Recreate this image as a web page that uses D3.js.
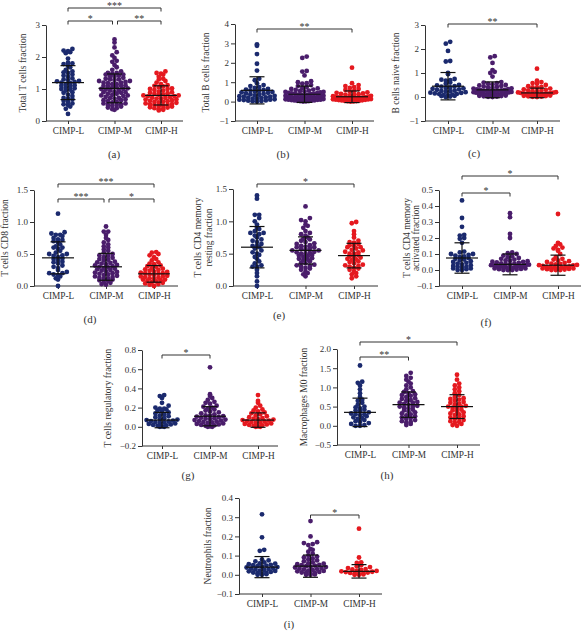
<!DOCTYPE html>
<html><head><meta charset="utf-8">
<script src="https://cdn.jsdelivr.net/npm/d3@7"></script>
<style>
body{margin:0;background:#fff;}
text{font-family:"Liberation Serif","Times New Roman",serif;fill:#333;}
</style></head>
<body><svg id="c" width="583" height="633"></svg>
<script>
// ---------- DATA ----------
const groups = ["CIMP-L","CIMP-M","CIMP-H"];
const colors = ["#1b2a6e","#4a1d6b","#e5191f"];

const aL=[0.22,0.38,0.45,0.5,0.52,0.55,0.6,0.63,0.68,0.7,0.72,0.78,0.82,0.88,0.9,0.95,0.98,1.0,1.02,1.05,1.08,1.1,1.12,1.15,1.18,1.2,1.22,1.24,1.25,1.28,1.3,1.33,1.38,1.42,1.45,1.5,1.52,1.55,1.6,1.68,1.72,1.78,1.8,1.82,1.95,2.12,2.15,2.18,2.2,2.25];
const aM=[0.35,0.37,0.4,0.42,0.45,0.48,0.5,0.5,0.52,0.55,0.55,0.58,0.6,0.62,0.65,0.65,0.68,0.7,0.72,0.72,0.75,0.78,0.8,0.8,0.82,0.85,0.85,0.88,0.9,0.9,0.92,0.95,0.95,0.98,1.0,1.0,1.02,1.05,1.05,1.08,1.1,1.1,1.12,1.15,1.15,1.18,1.2,1.2,1.22,1.25,1.25,1.28,1.3,1.3,1.32,1.35,1.38,1.4,1.42,1.45,1.45,1.48,1.5,1.5,1.55,1.6,1.68,1.75,1.85,1.88,1.97,2.05,2.15,2.3,2.45,2.55];
const aH=[0.33,0.35,0.37,0.38,0.4,0.42,0.43,0.45,0.47,0.48,0.5,0.5,0.52,0.53,0.55,0.57,0.58,0.6,0.6,0.62,0.63,0.65,0.67,0.68,0.7,0.7,0.72,0.73,0.75,0.77,0.78,0.8,0.8,0.82,0.83,0.85,0.87,0.88,0.9,0.92,0.95,0.97,1.0,1.0,1.02,1.05,1.08,1.1,1.12,1.15,1.2,1.25,1.3,1.32,1.38,1.45,1.48,1.5,1.55];

const bL=[0.0,0.02,0.03,0.05,0.06,0.08,0.1,0.1,0.12,0.15,0.15,0.18,0.2,0.22,0.25,0.25,0.28,0.3,0.32,0.35,0.38,0.4,0.42,0.45,0.48,0.5,0.52,0.55,0.58,0.6,0.62,0.65,0.7,0.75,0.8,0.85,0.95,1.1,1.18,1.6,1.95,2.45,2.88,2.95];
const bM=[0.0,0.01,0.02,0.03,0.04,0.05,0.06,0.07,0.08,0.09,0.1,0.1,0.12,0.13,0.14,0.15,0.16,0.18,0.19,0.2,0.2,0.22,0.23,0.25,0.26,0.28,0.3,0.3,0.32,0.33,0.35,0.36,0.38,0.4,0.4,0.42,0.44,0.45,0.48,0.5,0.5,0.52,0.55,0.57,0.6,0.62,0.65,0.68,0.7,0.75,0.8,0.85,0.92,0.95,1.0,1.05,1.35,1.55,1.58,2.25,2.32];
const bH=[0.0,0.01,0.02,0.03,0.04,0.05,0.06,0.07,0.08,0.09,0.1,0.11,0.12,0.13,0.14,0.15,0.16,0.17,0.18,0.19,0.2,0.21,0.22,0.23,0.25,0.26,0.28,0.3,0.32,0.34,0.36,0.38,0.4,0.42,0.45,0.48,0.52,0.55,0.6,0.65,0.7,0.75,0.8,0.85,0.95,1.75];

const cL=[0.0,0.02,0.04,0.05,0.07,0.08,0.1,0.12,0.13,0.15,0.17,0.18,0.2,0.22,0.24,0.25,0.27,0.3,0.32,0.34,0.36,0.38,0.4,0.43,0.45,0.48,0.5,0.55,0.6,0.68,0.7,0.72,0.75,0.95,1.0,1.48,1.5,1.92,2.22,2.3];
const cM=[0.0,0.01,0.02,0.03,0.04,0.05,0.06,0.07,0.08,0.09,0.1,0.1,0.11,0.12,0.13,0.14,0.15,0.16,0.17,0.18,0.19,0.2,0.21,0.22,0.23,0.24,0.25,0.26,0.28,0.29,0.3,0.32,0.33,0.35,0.36,0.38,0.4,0.42,0.44,0.46,0.48,0.5,0.52,0.55,0.58,0.6,0.62,0.85,1.0,1.05,1.12,1.42,1.65,1.7];
const cH=[0.0,0.01,0.02,0.03,0.04,0.05,0.06,0.07,0.08,0.09,0.1,0.1,0.11,0.12,0.13,0.14,0.15,0.16,0.17,0.18,0.19,0.2,0.22,0.24,0.26,0.28,0.3,0.32,0.35,0.38,0.4,0.42,0.45,0.5,0.55,0.58,0.62,0.68,1.18];

const dL=[0.0,0.1,0.12,0.15,0.17,0.18,0.2,0.2,0.22,0.25,0.28,0.3,0.32,0.35,0.37,0.38,0.4,0.42,0.43,0.45,0.47,0.48,0.5,0.5,0.52,0.55,0.58,0.6,0.6,0.62,0.65,0.68,0.7,0.72,0.73,0.75,0.78,0.8,0.8,0.82,0.84,1.13];
const dM=[0.02,0.03,0.05,0.06,0.08,0.09,0.1,0.11,0.12,0.13,0.14,0.15,0.16,0.17,0.18,0.19,0.2,0.21,0.22,0.23,0.24,0.25,0.26,0.27,0.28,0.29,0.3,0.31,0.32,0.33,0.34,0.35,0.36,0.37,0.38,0.4,0.41,0.42,0.44,0.45,0.47,0.48,0.5,0.52,0.55,0.57,0.6,0.62,0.65,0.68,0.72,0.75,0.8,0.85,0.85,0.93];
const dH=[0.0,0.02,0.03,0.04,0.05,0.06,0.07,0.08,0.09,0.1,0.1,0.11,0.12,0.13,0.14,0.15,0.15,0.16,0.17,0.18,0.19,0.2,0.2,0.21,0.22,0.23,0.24,0.25,0.26,0.27,0.28,0.3,0.31,0.32,0.34,0.35,0.37,0.4,0.42,0.45,0.48,0.5,0.52,0.53];

const eL=[0.0,0.07,0.15,0.2,0.25,0.3,0.3,0.32,0.35,0.38,0.42,0.45,0.48,0.5,0.52,0.55,0.58,0.6,0.62,0.62,0.65,0.68,0.7,0.72,0.75,0.78,0.8,0.82,0.82,0.85,0.88,0.9,0.95,1.0,1.05,1.1,1.1,1.35,1.4];
const eM=[0.15,0.18,0.2,0.22,0.25,0.27,0.28,0.3,0.31,0.32,0.33,0.35,0.36,0.38,0.4,0.41,0.42,0.43,0.45,0.46,0.47,0.48,0.5,0.5,0.51,0.52,0.53,0.55,0.55,0.56,0.57,0.58,0.6,0.6,0.61,0.62,0.63,0.65,0.66,0.68,0.7,0.72,0.73,0.75,0.78,0.8,0.82,0.85,0.9,0.93,0.95,1.0,1.02,1.05,1.23];
const eH=[0.12,0.15,0.18,0.2,0.22,0.25,0.27,0.28,0.3,0.31,0.32,0.33,0.35,0.37,0.38,0.4,0.41,0.42,0.44,0.45,0.46,0.48,0.5,0.5,0.52,0.53,0.55,0.56,0.58,0.6,0.6,0.62,0.63,0.65,0.67,0.68,0.7,0.75,0.8,0.85,0.97,0.99];

const fL=[0.0,0.0,0.005,0.01,0.01,0.015,0.02,0.02,0.025,0.03,0.035,0.04,0.045,0.05,0.055,0.06,0.065,0.07,0.075,0.08,0.085,0.09,0.095,0.1,0.1,0.11,0.115,0.17,0.195,0.2,0.215,0.22,0.27,0.325,0.435];
const fM=[0.0,0.0,0.0,0.003,0.005,0.007,0.01,0.01,0.012,0.015,0.015,0.018,0.02,0.02,0.022,0.025,0.025,0.028,0.03,0.03,0.033,0.035,0.038,0.04,0.042,0.045,0.048,0.05,0.052,0.055,0.058,0.06,0.065,0.07,0.075,0.08,0.085,0.09,0.1,0.105,0.11,0.2,0.225,0.33,0.355];
const fH=[0.0,0.0,0.0,0.003,0.005,0.007,0.01,0.01,0.012,0.015,0.015,0.018,0.02,0.02,0.022,0.025,0.028,0.03,0.032,0.035,0.038,0.04,0.045,0.05,0.055,0.06,0.065,0.07,0.08,0.1,0.12,0.125,0.135,0.14,0.15,0.16,0.17,0.35];

const gL=[0.0,0.0,0.005,0.01,0.015,0.02,0.025,0.03,0.035,0.04,0.045,0.05,0.055,0.06,0.065,0.07,0.075,0.08,0.09,0.1,0.11,0.12,0.13,0.14,0.15,0.16,0.17,0.18,0.19,0.19,0.2,0.22,0.25,0.3,0.32,0.33];
const gM=[0.0,0.0,0.005,0.01,0.015,0.02,0.025,0.03,0.035,0.04,0.045,0.05,0.055,0.06,0.065,0.07,0.075,0.08,0.085,0.09,0.095,0.1,0.105,0.11,0.115,0.12,0.13,0.14,0.15,0.16,0.17,0.18,0.19,0.2,0.21,0.22,0.24,0.25,0.26,0.28,0.3,0.32,0.34,0.62];
const gH=[0.0,0.0,0.005,0.01,0.015,0.02,0.025,0.03,0.035,0.04,0.045,0.05,0.055,0.06,0.065,0.07,0.075,0.08,0.085,0.09,0.1,0.11,0.12,0.13,0.14,0.15,0.16,0.17,0.18,0.2,0.22,0.25,0.27,0.33];

const hL=[0.0,0.0,0.02,0.05,0.07,0.1,0.12,0.15,0.18,0.2,0.22,0.25,0.28,0.3,0.3,0.32,0.35,0.38,0.4,0.42,0.45,0.48,0.5,0.55,0.6,0.65,0.68,0.75,0.85,0.95,1.05,1.12,1.15,1.57];
const hM=[0.02,0.05,0.08,0.1,0.12,0.15,0.18,0.2,0.22,0.25,0.27,0.3,0.32,0.35,0.37,0.4,0.42,0.45,0.47,0.5,0.5,0.52,0.55,0.57,0.6,0.6,0.62,0.65,0.67,0.7,0.72,0.75,0.78,0.8,0.82,0.85,0.88,0.9,0.95,1.0,1.05,1.1,1.15,1.2,1.25,1.3,1.38];
const hH=[0.0,0.02,0.05,0.08,0.1,0.12,0.15,0.18,0.2,0.22,0.25,0.28,0.3,0.32,0.35,0.37,0.4,0.42,0.45,0.47,0.5,0.5,0.52,0.55,0.57,0.6,0.62,0.65,0.68,0.7,0.72,0.75,0.8,0.85,0.9,0.95,1.0,1.05,1.1,1.2,1.33];

const iL=[0.0,0.0,0.003,0.005,0.008,0.01,0.012,0.015,0.018,0.02,0.022,0.025,0.028,0.03,0.032,0.035,0.038,0.04,0.042,0.045,0.048,0.05,0.052,0.055,0.058,0.06,0.065,0.07,0.075,0.08,0.125,0.13,0.195,0.315];
const iM=[0.0,0.0,0.002,0.005,0.008,0.01,0.012,0.015,0.018,0.02,0.022,0.025,0.028,0.03,0.032,0.035,0.038,0.04,0.042,0.045,0.048,0.05,0.052,0.055,0.058,0.06,0.065,0.07,0.075,0.08,0.085,0.09,0.095,0.1,0.11,0.12,0.13,0.135,0.155,0.16,0.165,0.17,0.2,0.28];
const iH=[0.0,0.0,0.002,0.004,0.006,0.008,0.01,0.012,0.014,0.016,0.018,0.02,0.022,0.025,0.028,0.03,0.035,0.04,0.045,0.05,0.062,0.065,0.09,0.24];

// mean and SD
const means = {a:[1.2,1.02,0.8], b:[0.58,0.38,0.25], c:[0.45,0.3,0.17], d:[0.44,0.3,0.19], e:[0.6,0.55,0.47], f:[0.075,0.035,0.03], g:[0.07,0.11,0.07], h:[0.35,0.55,0.5], i:[0.04,0.045,0.018]};
const sds   = {a:[0.53,0.45,0.3], b:[0.7,0.42,0.3], c:[0.57,0.33,0.2], d:[0.25,0.21,0.13], e:[0.32,0.21,0.19], f:[0.095,0.065,0.063], g:[0.08,0.1,0.075], h:[0.37,0.33,0.31], i:[0.055,0.058,0.035]};

// y tick values
const ticksA=[0,1,2,3], ticksB=[-1,0,1,2,3,4], ticksC=[-1,0,1,2,3];
const ticksD=[0,0.5,1.0,1.5], ticksE=[0,0.5,1.0,1.5];
const ticksF=[-0.1,0,0.1,0.2,0.3,0.4,0.5], ticksG=[-0.2,0,0.2,0.4,0.6,0.8];
const ticksH=[-0.5,0,0.5,1.0,1.5,2.0], ticksI=[-0.1,0,0.1,0.2,0.3,0.4];

// ---------- LAYOUT ----------
const panels = [
 {id:"a", data:[aL,aM,aH], ticks:ticksA, fmt:d3.format("d"), domain:[0,3], axisX:46, yTop:25, yBot:121, cats:[68,115,161],
  title:["Total T cells fraction"], titleX:[23], label:[114,158],
  sigs:[{y:8,a:0,b:2,t:"***"},{y:21,a:0,b:1,t:"*",o2:-2},{y:21,a:1,b:2,t:"**",o1:3}]},
 {id:"b", data:[bL,bM,bH], ticks:ticksB, fmt:d3.format("d"), domain:[-1,4], axisX:235, yTop:24, yBot:121, cats:[257,305,352],
  title:["Total B cells fraction"], titleX:[206], label:[283,158], sigs:[{y:29,a:0,b:2,t:"**"}]},
 {id:"c", data:[cL,cM,cH], ticks:ticksC, fmt:d3.format("d"), domain:[-1,3], axisX:425, yTop:25, yBot:121, cats:[448,495,537],
  title:["B cells naive fraction"], titleX:[396], label:[474,157], sigs:[{y:24,a:0,b:2,t:"**"}]},
 {id:"d", data:[dL,dM,dH], ticks:ticksD, fmt:d3.format(".1f"), domain:[0,1.5], axisX:34, yTop:190, yBot:286, cats:[58,106,154],
  title:["T cells CD8 fraction"], titleX:[5], label:[90,323],
  sigs:[{y:184,a:0,b:2,t:"***"},{y:199,a:0,b:1,t:"***",o2:-2},{y:199,a:1,b:2,t:"*",o1:3}]},
 {id:"e", data:[eL,eM,eH], ticks:ticksE, fmt:d3.format(".1f"), domain:[0,1.5], axisX:233, yTop:189, yBot:286, cats:[257,305,354],
  title:["T cells CD4 memory","resting fraction"], titleX:[198,208.5], label:[279,319], sigs:[{y:184,a:0,b:2,t:"*"}]},
 {id:"f", data:[fL,fM,fH], ticks:ticksF, fmt:d3.format(".1f"), domain:[-0.1,0.5], axisX:439, yTop:190, yBot:286, cats:[462,512,558],
  title:["T cells CD4 memory","activated fraction"], titleX:[407,416], label:[486,326],
  sigs:[{y:176,a:0,b:2,t:"*"},{y:193,a:0,b:1,t:"*"}]},
 {id:"g", data:[gL,gM,gH], ticks:ticksG, fmt:d3.format(".1f"), domain:[-0.2,0.8], axisX:142, yTop:350, yBot:446, cats:[162,210,258],
  title:["T cells regulatory fraction"], titleX:[107.5], label:[188,479], sigs:[{y:355,a:0,b:1,t:"*"}]},
 {id:"h", data:[hL,hM,hH], ticks:ticksH, fmt:d3.format(".1f"), domain:[-0.5,2.0], axisX:337, yTop:349, yBot:445, cats:[360,409,457],
  title:["Macrophages M0 fraction"], titleX:[304], label:[387,479],
  sigs:[{y:342,a:0,b:2,t:"*"},{y:357,a:0,b:1,t:"**"}]},
 {id:"i", data:[iL,iM,iH], ticks:ticksI, fmt:d3.format(".1f"), domain:[-0.1,0.4], axisX:239, yTop:498, yBot:594, cats:[262,311,359],
  title:["Neutrophils fraction"], titleX:[208], label:[289,628], sigs:[{y:515,a:1,b:2,t:"*"}]}
];

const svg = d3.select("#c");
const R = 2.4, ROWH = 3.6, SP = 4.4, MAXHALF = 19;

function swarm(vals, y, cx){
  const pts = vals.map(v => ({v, py: y(v)}));
  const rows = d3.group(pts, d => Math.round(d.py / ROWH));
  rows.forEach(arr => {
    arr.sort((p,q) => p.v - q.v);
    const n = arr.length;
    const s = n > 1 ? Math.min(SP, 2*MAXHALF/(n-1)) : 0;
    const slots = d3.range(n).map(k => (k - (n-1)/2) * s).sort((p,q)=>Math.abs(p)-Math.abs(q) || p-q);
    arr.forEach((d,k) => d.px = cx + slots[k]);
  });
  return pts;
}

panels.forEach(p => {
  const g = svg.append("g");
  const y = d3.scaleLinear().domain(p.domain).range([p.yBot, p.yTop]);
  const x = d3.scalePoint().domain(groups).range([p.cats[0], p.cats[2]]);
  const gap = p.cats[0] - p.axisX;
  const xEnd = p.cats[2] + gap;

  const ya = g.append("g").attr("transform", `translate(${p.axisX},0)`)
    .call(d3.axisLeft(y).tickValues(p.ticks).tickFormat(p.fmt).tickSize(4).tickSizeOuter(0).tickPadding(2));
  ya.select(".domain").attr("stroke","#333");
  ya.selectAll(".tick line").attr("stroke","#333");
  ya.selectAll("text").style("font-size","9px").style("font-family","Liberation Serif").attr("fill","#333");

  const xa = g.append("g").attr("transform", `translate(0,${p.yBot})`)
    .call(d3.axisBottom(x).tickSize(3).tickSizeOuter(0).tickPadding(3));
  xa.select(".domain").remove();
  xa.append("line").attr("x1", p.axisX).attr("x2", xEnd).attr("stroke","#333");
  xa.selectAll(".tick line").attr("stroke","#333");
  xa.selectAll("text").style("font-size","9.3px").style("font-family","Liberation Serif").attr("fill","#333");

  p.data.forEach((vals, gi) => {
    const pts = swarm(vals, y, x(groups[gi]));
    g.append("g").selectAll("circle").data(pts).join("circle")
      .attr("cx", d => d.px).attr("cy", d => d.py).attr("r", R).attr("fill", colors[gi]);
  });

  groups.forEach((grp, gi) => {
    const cx = x(grp), m = means[p.id][gi], s = sds[p.id][gi];
    const eg = g.append("g").attr("stroke","#111").attr("stroke-width",1.2);
    eg.append("line").attr("x1",cx).attr("x2",cx).attr("y1",y(m-s)).attr("y2",y(m+s));
    eg.append("line").attr("x1",cx-16).attr("x2",cx+16).attr("y1",y(m)).attr("y2",y(m));
    [m-s, m+s].forEach(v => eg.append("line").attr("x1",cx-7.5).attr("x2",cx+7.5).attr("y1",y(v)).attr("y2",y(v)));
  });

  p.sigs.forEach(s => {
    const x1 = x(groups[s.a]) + (s.o1||0), x2 = x(groups[s.b]) + (s.o2||0);
    const sg = g.append("g").attr("stroke","#333").attr("stroke-width",1).attr("fill","none");
    sg.append("path").attr("d", `M${x1},${s.y+3.5}V${s.y}H${x2}V${s.y+3.5}`);
    g.append("text").attr("x",(x1+x2)/2).attr("y",s.y+1).attr("text-anchor","middle")
      .style("font-size","10px").text(s.t);
  });

  const yc = (p.yTop + p.yBot)/2;
  p.title.forEach((t, k) => {
    g.append("text").attr("transform", `translate(${p.titleX[k]},${yc}) rotate(-90)`)
      .attr("text-anchor","middle").attr("dy","0.35em").style("font-size","9.5px").text(t);
  });

  g.append("text").attr("x", p.label[0]).attr("y", p.label[1]).attr("text-anchor","middle")
    .style("font-size","11px").text(`(${p.id})`);
});
</script>
</body></html>
